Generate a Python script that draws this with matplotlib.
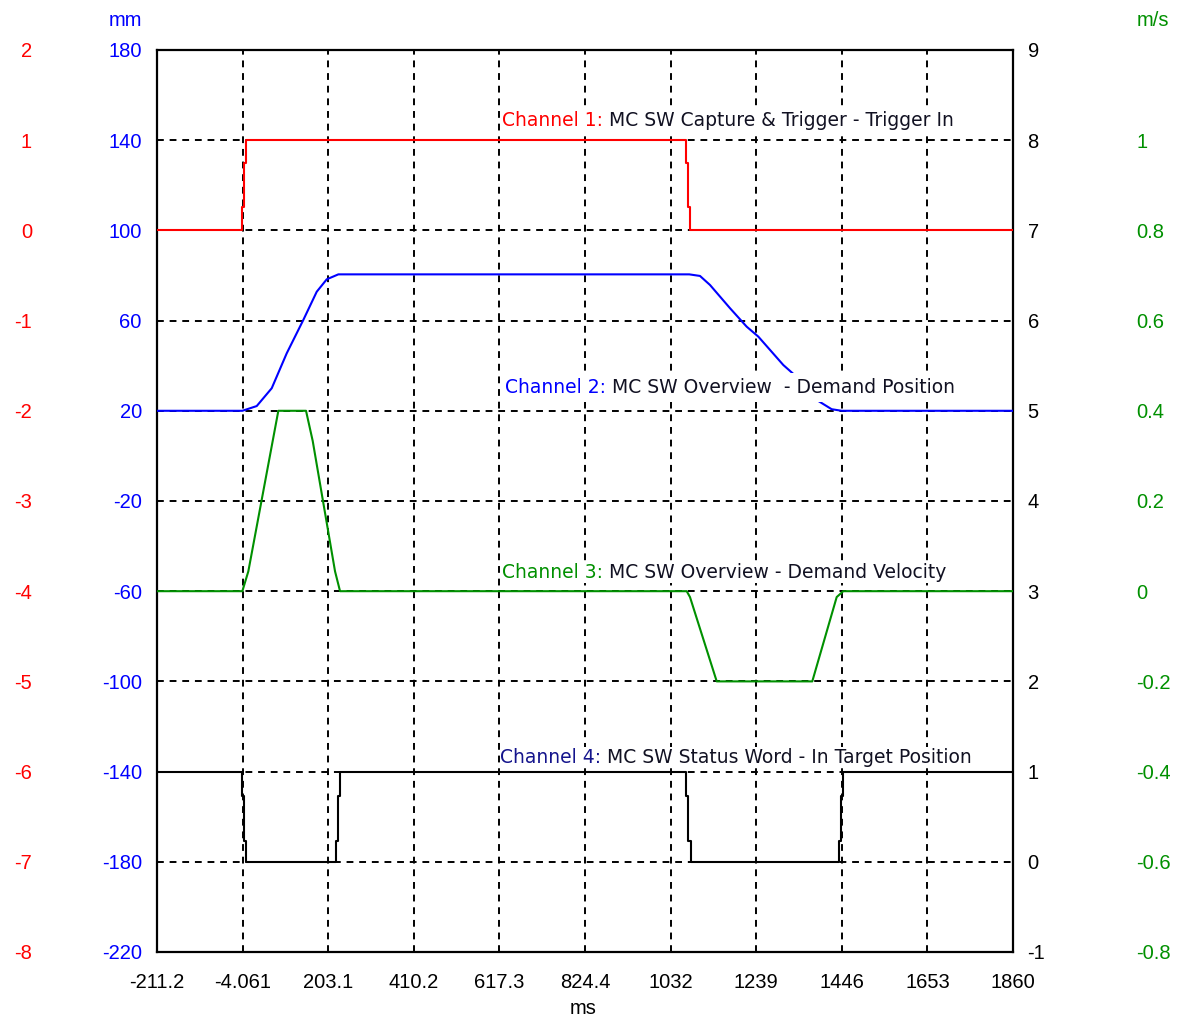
import matplotlib.pyplot as plt
from matplotlib.offsetbox import TextArea, HPacker, AnnotationBbox

# x axis (ms)
x_labels = ['-211.2', '-4.061', '203.1', '410.2', '617.3', '824.4',
            '1032', '1239', '1446', '1653', '1860']
x_ticks = [float(s) for s in x_labels]

# channel 1 - trigger in (red, left outer axis)
t_trig = [-211.2, -4.8, -4.8, -0.7, -0.7, 4.9, 4.9, 1068.7, 1068.7,
          1072.8, 1072.8, 1079.2, 1079.2, 1860]
v_trig = [0, 0, 0.26, 0.26, 0.75, 0.75, 1, 1, 0.75, 0.75, 0.26, 0.26, 0, 0]

# channel 2 - demand position, mm (blue, left inner axis)
t_pos = [-211.2, -4.8, 30.0, 66.3, 102.6, 142.8, 175.2, 199.4, 227.5,
         1076.7, 1102.6, 1126.8, 1175.2, 1215.6, 1243.7, 1304.2, 1327.0,
         1355.0, 1385.0, 1421.2, 1445.5, 1860]
v_pos = [20, 20, 22.1, 30.0, 45.5, 60.3, 72.8, 78.3, 80.5,
         80.5, 79.8, 75.8, 65.5, 57.3, 52.9, 40.3, 36.6,
         30.6, 24.8, 20.7, 20, 20]

# channel 3 - demand velocity, m/s (green, right outer axis)
t_vel = [-211.2, -4.8, 9.7, 82.3, 149.3, 165.5, 219.5, 231.6,
         1070.4, 1078.4, 1143.1, 1374.3, 1433.4, 1449.4, 1860]
v_vel = [0, 0, 0.044, 0.4, 0.4, 0.333, 0.044, 0,
         0, -0.013, -0.2, -0.2, -0.013, 0, 0]

# channel 4 - in target position (black, right inner axis)
t_tgt = [-211.2, -4.8, -4.8, -0.7, -0.7, 4.1, 4.1, 221.9, 221.9, 226.0, 226.0,
         231.6, 231.6, 1068.7, 1068.7, 1072.8, 1072.8, 1080.0, 1080.0,
         1438.9, 1438.9, 1443.0, 1443.0, 1447.8, 1447.8, 1860]
v_tgt = [1, 1, 0.73, 0.73, 0.23, 0.23, 0, 0, 0.23, 0.23, 0.73,
         0.73, 1, 1, 0.73, 0.73, 0.23, 0.23, 0,
         0, 0.23, 0.23, 0.73, 0.73, 1, 1]

red_ticks = [2, 1, 0, -1, -2, -3, -4, -5, -6, -7, -8]
blue_ticks = [180, 140, 100, 60, 20, -20, -60, -100, -140, -180, -220]
black_ticks = [9, 8, 7, 6, 5, 4, 3, 2, 1, 0, -1]
green_ticks = [1, 0.8, 0.6, 0.4, 0.2, 0, -0.2, -0.4, -0.6, -0.8]
green_labels = ['1', '0.8', '0.6', '0.4', '0.2', '0', '-0.2', '-0.4', '-0.6', '-0.8']

labels = [('Channel 1: ', 'MC SW Capture & Trigger - Trigger In'),
          ('Channel 2: ', 'MC SW Overview  - Demand Position'),
          ('Channel 3: ', 'MC SW Overview - Demand Velocity'),
          ('Channel 4: ', 'MC SW Status Word - In Target Position')]

RED = '#ff0000'
BLUE = '#0000ff'
GREEN = '#009000'
tick_font = dict(family='Liberation Sans', size=14.5)

fig = plt.figure(figsize=(11.79, 10.16), dpi=100)
ax = fig.add_axes([0.1332, 0.0630, 0.7260, 0.8878])
ax_red = ax.twinx()
ax_blue = ax.twinx()
ax_green = ax.twinx()

ax.set_xlim(x_ticks[0], x_ticks[-1])
ax.set_xticks(x_ticks)
ax.set_xticklabels(x_labels, **tick_font)
ax.tick_params(axis='x', length=0, pad=15)

# black axis (right inner)
ax.set_ylim(-1, 9)
ax.set_yticks(black_ticks)
ax.set_yticklabels([str(v) for v in black_ticks], **tick_font)
ax.tick_params(axis='y', length=0, left=False, labelleft=False,
               right=True, labelright=True, pad=10.5)
ax.grid(True, color='black', linestyle=(0, (3.5, 3)), linewidth=1.4)
ax.set_axisbelow(True)
for s in ax.spines.values():
    s.set_linewidth(1.6)

# red axis (left outer)
ax_red.set_ylim(-8, 2)
ax_red.set_yticks(red_ticks)
ax_red.set_yticklabels([str(v) for v in red_ticks], color=RED, **tick_font)
ax_red.tick_params(axis='y', length=0, left=True, labelleft=True,
                   right=False, labelright=False, pad=90)

# blue axis (left inner)
ax_blue.set_ylim(-220, 180)
ax_blue.set_yticks(blue_ticks)
ax_blue.set_yticklabels([str(v) for v in blue_ticks], color=BLUE, **tick_font)
ax_blue.tick_params(axis='y', length=0, left=True, labelleft=True,
                    right=False, labelright=False, pad=11)

# green axis (right outer)
ax_green.set_ylim(-0.8, 1.2)
ax_green.set_yticks(green_ticks)
ax_green.set_yticklabels(green_labels, color=GREEN, **tick_font)
ax_green.tick_params(axis='y', length=0, pad=89)

for a in (ax_red, ax_blue, ax_green):
    for s in a.spines.values():
        s.set_visible(False)

ax_red.plot(t_trig, v_trig, color=RED, linewidth=1.5)
ax_blue.plot(t_pos, v_pos, color=BLUE, linewidth=1.5)
ax_green.plot(t_vel, v_vel, color=GREEN, linewidth=1.5)
ax.plot(t_tgt, v_tgt, color='black', linewidth=1.5)

# channel labels (white box hides what lies under the text)
label_colors = [RED, BLUE, GREEN, '#14148c']
label_pos = [(0.403, 0.922), (0.406, 0.626), (0.403, 0.421), (0.401, 0.216)]
label_pads = [0.1, 0.35, 0.1, 0.05]
for (head, tail), col, (lx, ly), bp in zip(labels, label_colors, label_pos, label_pads):
    box = HPacker(children=[
        TextArea(head, textprops=dict(color=col, family='DejaVu Sans', size=13.5)),
        TextArea(tail, textprops=dict(color='#111122', family='DejaVu Sans', size=13.5)),
    ], pad=0, sep=0, align='baseline')
    ab = AnnotationBbox(box, (lx, ly), xycoords='axes fraction', box_alignment=(0, 0.5),
                        frameon=True, pad=bp,
                        bboxprops=dict(facecolor='white', edgecolor='none'))
    ab.set_zorder(10)
    ax_green.add_artist(ab)

# unit labels
fig.text(125 / 1179, 1 - 21 / 1016, 'mm', color=BLUE, ha='center', va='center', **tick_font)
fig.text(1153 / 1179, 1 - 21 / 1016, 'm/s', color=GREEN, ha='center', va='center', **tick_font)
fig.text(583 / 1179, 1 - 1008 / 1016, 'ms', color='black', ha='center', va='center', **tick_font)

fig.savefig('out.png', dpi=100)
